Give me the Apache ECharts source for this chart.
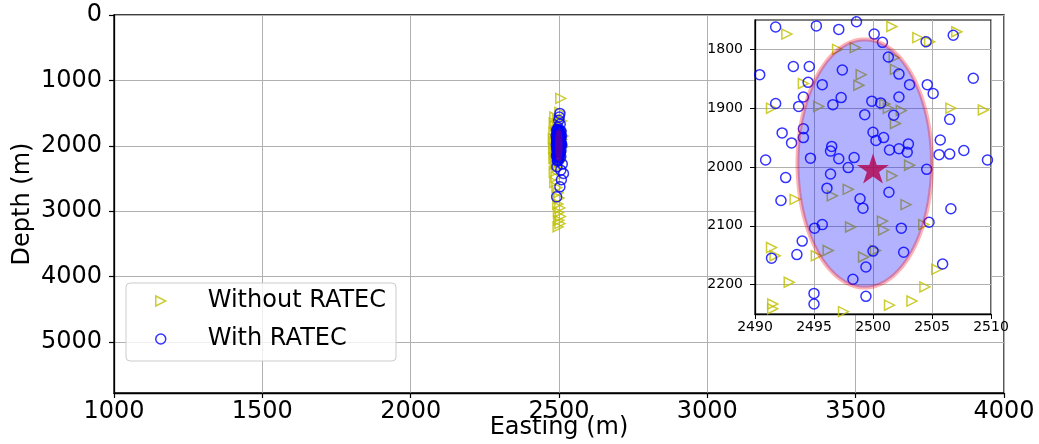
<!DOCTYPE html>
<html><head><meta charset="utf-8">
<script src="https://cdn.jsdelivr.net/npm/echarts@6/dist/echarts.min.js"></script>
<style>html,body{margin:0;padding:0;background:#fff}#c{width:1039px;height:444px}</style>
</head><body><div id="c"></div>
<script>
// ---- data ----
const seriesNames = ['Without RATEC', 'With RATEC'];
const withoutRatec = [
  [2492.7,1774],[2497.0,1800],[2498.5,1797],[2499.0,1843],[2498.8,1861],[2494.1,1858],[2489.8,1894],[2491.4,1900],[2495.4,1897],
  [2501.6,1761],[2503.8,1780],[2507.1,1770],[2504.8,1787],[2501.8,1814],[2501.9,1834],[2501.0,1893],[2501.3,1900],[2502.4,1904],[2501.9,1926],[2506.6,1900],[2509.35,1903],
  [2489.8,2080],[2493.4,2055],[2496.55,2049],[2497.9,2038],[2498.1,2102],[2491.4,2137],[2491.7,2151],[2495.2,2151],[2496.2,2142],[2492.9,2196],[2491.5,2233],[2491.5,2241],[2497.5,2246],
  [2503.1,1997],[2501.6,2015],[2502.8,2064],[2500.8,2092],[2500.9,2107],[2504.3,2098],[2500.2,2142],[2499.2,2153],[2503.3,2228],[2504.4,2204],[2505.4,2174],[2501.4,2235],
  [2506,1275],[2503,1490],[2486,1560],[2495,1600],[2484,1650],[2509,1620],[2488,1700],[2500,1725],[2483,1800],[2481,1890],[2484,1960],[2482,2040],[2485,2120],[2483,2190],
  [2513,1850],[2512,2020],[2487,2290],[2493,2330],[2484,2400],[2490,2480],[2486,2560],[2493,2640],[2497,2720],[2500,2800],[2496,2890],[2503,2950],[2498,3020],[2505,3080],
  [2499,3140],[2503,3190],[2497,3240]
];
const withRatec = [
  [2491.75,1762],[2495.2,1760],[2497.1,1766],[2498.6,1753],[2493.25,1829],[2494.6,1829],[2490.4,1843],[2497.4,1835],[2494.5,1856],[2495.7,1860],[2494.1,1881],[2497.3,1882],
  [2491.75,1892],[2493.7,1897],[2496.6,1894],[2499.3,1911],[2492.3,1942],[2494.1,1935],[2494.1,1950],[2493.1,1959],[2496.5,1965],[2496.4,1973],[2494.7,1985],[2497.1,1986],
  [2498.4,1984],[2490.9,1988],
  [2500.1,1774],[2500.8,1788],[2504.5,1787],[2506.8,1776],[2501.3,1813],[2502.2,1842],[2503.1,1860],[2504.6,1860],[2505.1,1875],[2508.5,1849],[2502.2,1881],[2499.9,1888],
  [2500.65,1891],[2501.75,1912],[2506.5,1919],[2500.0,1941],[2500.25,1955],[2500.9,1950],[2501.4,1971],[2502.2,1969],[2503.0,1961],[2502.9,1975],[2505.7,1954],[2505.6,1979],
  [2506.5,1978],[2507.7,1972],[2509.7,1988],
  [2492.6,2018],[2496.4,2012],[2497.9,2001],[2496.1,2036],[2492.2,2057],[2498.9,2054],[2499.15,2070],[2495.05,2104],[2495.7,2098],[2494.0,2126],[2493.55,2149],[2491.4,2155],
  [2498.3,2191],[2495.0,2215],[2495.0,2233],[2499.4,2170],[2500.0,2143],[2499.4,2220],
  [2504.55,2004],[2501.35,2043],[2506.6,2071],[2504.75,2094],[2502.4,2104],[2502.6,2145],[2505.9,2165],
  [2503,1505],[2501,1560],[2499,1610],[2504,1670],[2497,1720],[2511,2280],[2493,2320],[2506,2373],[2515,2423],[2503,2628],[2492,2781],[2508,2520]
];
const trueSource = [[2500, 2000]];
const ellipse = [[2499.3, 1994, 5.7, 211]]; // centre x, centre depth, half-width, half-height
const xTicksMain = [1000, 1500, 2000, 2500, 3000, 3500, 4000];
const yTicksMain = [0, 1000, 2000, 3000, 4000, 5000];
const xTicksInset = [2490, 2495, 2500, 2505, 2510];
const yTicksInset = [1800, 1900, 2000, 2100, 2200];

// ---- chart ----
const FONT = 'DejaVu Sans';
const YEL = '#bfbf00', BLU = '#0000ff';
const STAR = 'path://M0,-1L0.2245,-0.309L0.9511,-0.309L0.3633,0.118L0.5878,0.809L0,0.382L-0.5878,0.809L-0.3633,0.118L-0.9511,-0.309L-0.2245,-0.309Z';
const TRI_R = 'path://M0,0L2,1L0,2Z';
const plain = v => String(v);

function ellipseItem(params, api) {
  const cx = api.value(0), cy = api.value(1), rx = api.value(2), ry = api.value(3);
  const pts = [];
  for (let i = 0; i < 160; i++) {
    const t = i / 160 * 2 * Math.PI;
    pts.push(api.coord([cx + rx * Math.cos(t), cy + ry * Math.sin(t)]));
  }
  return {type: 'polygon', shape: {points: pts},
    style: {fill: 'rgba(0,0,255,0.3)', stroke: 'rgba(255,0,0,0.3)', lineWidth: 4}};
}

const gridLine = {show: true, lineStyle: {color: '#b0b0b0', width: 1}};
const axLine = {show: true, onZero: false, lineStyle: {color: '#000', width: 1.3}};

function triSeries(name, xi, z) {
  return {type: 'scatter', name, xAxisIndex: xi, yAxisIndex: xi, z, data: withoutRatec,
    symbol: 'triangle', symbolRotate: -90, symbolSize: 10, clip: true, silent: true,
    itemStyle: {color: 'rgba(0,0,0,0)', borderColor: YEL, borderWidth: 1.5}};
}
function cirSeries(name, xi, z) {
  return {type: 'scatter', name, xAxisIndex: xi, yAxisIndex: xi, z, data: withRatec,
    symbol: 'circle', symbolSize: 10, clip: true, silent: true,
    itemStyle: {color: 'rgba(0,0,0,0)', borderColor: BLU, borderWidth: 1.5}};
}
function ellSeries(xi, z) {
  return {type: 'custom', xAxisIndex: xi, yAxisIndex: xi, z, data: ellipse, silent: true,
    dimensions: ['x', 'y', 'rx', 'ry'], encode: {x: 0, y: 1}, renderItem: ellipseItem};
}

const option = {
  animation: false,
  backgroundColor: '#fff',
  textStyle: {fontFamily: FONT},
  grid: [
    {left: 114, top: 15, right: 35, bottom: 51, show: true, borderColor: '#000', borderWidth: 1.3, z: 0,
     containLabel: false, outerBoundsMode: 'none'},
    {left: 755, top: 20, right: 48, bottom: 130, show: true, backgroundColor: '#fff', borderColor: '#000', borderWidth: 1.2, z: 3,
     containLabel: false, outerBoundsMode: 'none'}
  ],
  xAxis: [
    {type: 'value', gridIndex: 0, min: xTicksMain[0], max: xTicksMain[xTicksMain.length - 1], interval: 500,
     axisLine: axLine, axisTick: {show: true, inside: false, length: 5, lineStyle: {color: '#000', width: 1.2}},
     axisLabel: {color: '#000', fontSize: 24, fontFamily: FONT, margin: 7, formatter: plain, customValues: xTicksMain},
     splitLine: gridLine, name: 'Easting (m)', nameLocation: 'middle', nameGap: 23, nameMoveOverlap: false,
     nameTextStyle: {color: '#000', fontSize: 24, fontFamily: FONT}, z: 0},
    {type: 'value', gridIndex: 1, min: xTicksInset[0], max: xTicksInset[xTicksInset.length - 1], interval: 5,
     axisLine: axLine, axisTick: {show: true, inside: false, length: 5, lineStyle: {color: '#000', width: 1}},
     axisLabel: {color: '#000', fontSize: 14, fontFamily: FONT, margin: 6, formatter: plain, customValues: xTicksInset},
     splitLine: gridLine, z: 4}
  ],
  yAxis: [
    {type: 'value', gridIndex: 0, inverse: true, min: 0, max: 5780, interval: 1000,
     axisLine: axLine, axisTick: {show: true, inside: false, length: 5, lineStyle: {color: '#000', width: 1.2}, customValues: yTicksMain},
     axisLabel: {color: '#000', fontSize: 24, fontFamily: FONT, margin: 12, formatter: plain, customValues: yTicksMain},
     splitLine: gridLine, name: 'Depth (m)', nameLocation: 'middle', nameGap: 79, nameRotate: 90, nameMoveOverlap: false,
     nameTextStyle: {color: '#000', fontSize: 24, fontFamily: FONT}, z: 0},
    {type: 'value', gridIndex: 1, inverse: true, min: 1750, max: 2250,
     axisLine: axLine, axisTick: {show: true, inside: false, length: 5, lineStyle: {color: '#000', width: 1}, customValues: yTicksInset},
     axisLabel: {color: '#000', fontSize: 14, fontFamily: FONT, margin: 12, formatter: plain, customValues: yTicksInset},
     splitLine: gridLine, z: 4}
  ],
  legend: {
    left: 126, top: 283, orient: 'vertical', itemGap: 14, itemWidth: 10, itemHeight: 10,
    padding: [6, 10, 10, 29], backgroundColor: 'rgba(255,255,255,0.8)', borderColor: '#cccccc', borderWidth: 1, borderRadius: 4,
    selectedMode: false, z: 10,
    textStyle: {color: '#000', fontSize: 24, fontFamily: FONT, lineHeight: 24, padding: [0, 0, 0, 37]},
    data: [
      {name: seriesNames[0], icon: TRI_R, itemStyle: {color: 'rgba(0,0,0,0)', borderColor: YEL, borderWidth: 1.5}},
      {name: seriesNames[1], icon: 'circle', itemStyle: {color: 'rgba(0,0,0,0)', borderColor: BLU, borderWidth: 1.5}}
    ]
  },
  series: [
    triSeries(seriesNames[0], 0, 2),
    cirSeries(seriesNames[1], 0, 3),
    ellSeries(0, 4),
    triSeries(seriesNames[0], 1, 5),
    cirSeries(seriesNames[1], 1, 6),
    {type: 'scatter', xAxisIndex: 1, yAxisIndex: 1, z: 7, data: trueSource, symbol: STAR, symbolSize: [32, 30],
     symbolOffset: [0, 1.5], silent: true, itemStyle: {color: '#ff0000'}},
    ellSeries(1, 8)
  ]
};
const chart = echarts.init(document.getElementById('c'));
chart.setOption(option);
</script>
</body></html>
